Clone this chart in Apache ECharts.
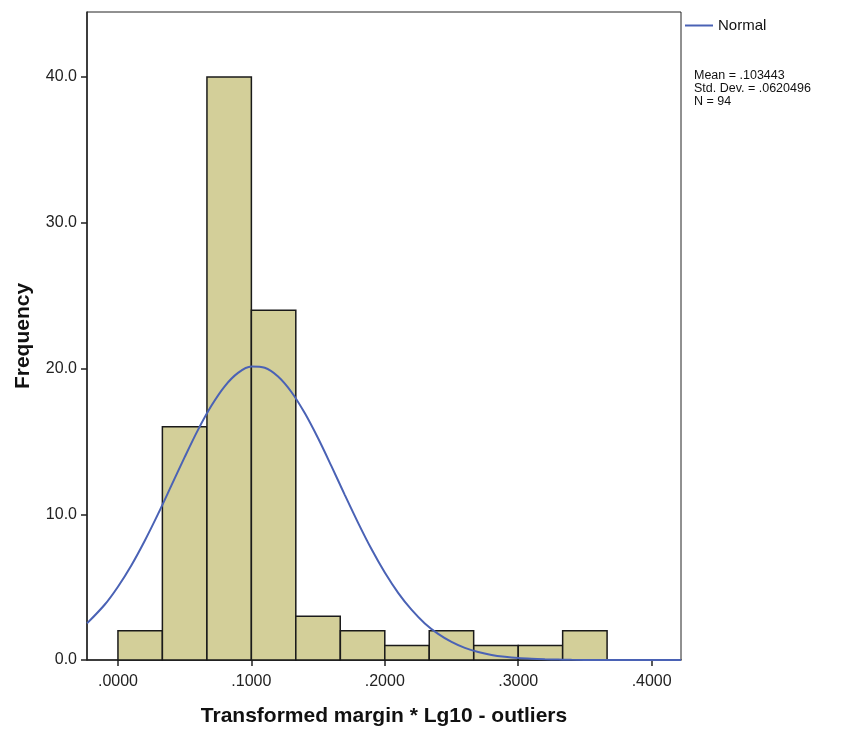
<!DOCTYPE html>
<html lang="en">
<head>
    <meta charset="UTF-8">
    <title>Histogram - Transformed margin</title>
    <script src="https://cdn.jsdelivr.net/npm/echarts@6.0.0/dist/echarts.min.js"></script>
    <style>
        * { margin: 0; padding: 0; box-sizing: border-box; }
        body { background: #fff; }
        #chart { width: 847px; height: 729px; }
    </style>
</head>
<body>
    <div id="chart"></div>

    <script>
        // histogram bins (width .0333, starting at 0)
        const binStarts = [0, 0.0333, 0.0667, 0.1, 0.1333, 0.1667, 0.2, 0.2333, 0.2667, 0.3, 0.3333];
        const binWidth = 0.0333;
        const counts = [2, 16, 40, 24, 3, 2, 1, 2, 1, 1, 2];

        // normal curve
        const curveX = [-0.0232, -0.01, 0, 0.01, 0.02, 0.03, 0.04, 0.05, 0.06, 0.07, 0.08, 0.09,
                        0.10, 0.11, 0.12, 0.13, 0.14, 0.15, 0.16, 0.17, 0.18, 0.19, 0.20, 0.21,
                        0.22, 0.23, 0.24, 0.25, 0.26, 0.27, 0.28, 0.29, 0.30, 0.31, 0.32, 0.33,
                        0.34, 0.36, 0.38, 0.40, 0.422];
        const curveY = [2.51, 3.79, 5.03, 6.49, 8.17, 10.01, 11.96, 13.92, 15.79, 17.44, 18.78, 19.70,
                        20.13, 20.05, 19.45, 18.39, 16.94, 15.21, 13.30, 11.33, 9.41, 7.61, 6.00, 4.61,
                        3.45, 2.51, 1.79, 1.24, 0.83, 0.55, 0.35, 0.22, 0.13, 0.08, 0.05, 0.03,
                        0.01, 0, 0, 0, 0];

        const xTicks = [0, 0.1, 0.2, 0.3, 0.4];
        const yTicks = [0, 10, 20, 30, 40];
        const statsLines = ['Mean = .103443', 'Std. Dev. = .0620496', 'N = 94'];

        const chart = echarts.init(document.getElementById('chart'));

        const option = {
            animation: false,
            textStyle: { fontFamily: 'Liberation Sans, Arial, sans-serif' },
            grid: {
                left: 87, right: 166, top: 12, bottom: 69,
                outerBoundsMode: 'none',
                show: true, borderColor: '#222', borderWidth: 1
            },
            legend: {
                left: 680, top: 13,
                itemWidth: 28, itemHeight: 2, itemGap: 5,
                icon: 'rect',
                textStyle: { fontSize: 15, color: '#111' },
                data: ['Normal']
            },
            xAxis: {
                type: 'value',
                min: -0.0232, max: 0.422,
                name: 'Transformed margin * Lg10 - outliers',
                nameLocation: 'middle',
                nameGap: 46,
                nameTextStyle: { fontSize: 21, fontWeight: 'bold', color: '#111' },
                axisLine: { onZero: false, lineStyle: { color: '#222', width: 1.5 } },
                axisTick: { show: true, length: 6, customValues: xTicks, lineStyle: { color: '#222', width: 1.5 } },
                axisLabel: {
                    customValues: xTicks, fontSize: 16, color: '#222', margin: 14,
                    formatter: v => v.toFixed(4).replace(/^0/, '')
                },
                splitLine: { show: false }
            },
            yAxis: {
                type: 'value',
                min: 0, max: 44.46,
                name: 'Frequency',
                nameLocation: 'middle',
                nameGap: 53,
                nameTextStyle: { fontSize: 21, fontWeight: 'bold', color: '#111' },
                axisLine: { show: true, onZero: false, lineStyle: { color: '#222', width: 1.5 } },
                axisTick: { show: true, length: 6, customValues: yTicks, lineStyle: { color: '#222', width: 1.5 } },
                axisLabel: {
                    customValues: yTicks, fontSize: 16, color: '#222', margin: 10,
                    formatter: v => v.toFixed(1)
                },
                splitLine: { show: false }
            },
            series: [
                {
                    name: 'Histogram',
                    type: 'custom',
                    data: binStarts.map((s, i) => [s, counts[i]]),
                    renderItem: function (params, api) {
                        const x0 = api.value(0);
                        const c = api.value(1);
                        const p0 = api.coord([x0, c]);
                        const p1 = api.coord([x0 + binWidth, 0]);
                        return {
                            type: 'rect',
                            shape: { x: p0[0], y: p0[1], width: p1[0] - p0[0], height: p1[1] - p0[1] },
                            style: { fill: '#d3cf99', stroke: '#1a1a1a', lineWidth: 1.5 }
                        };
                    },
                    z: 2
                },
                {
                    name: 'Normal',
                    type: 'line',
                    data: curveX.map((x, i) => [x, curveY[i]]),
                    smooth: 0.3,
                    showSymbol: false,
                    lineStyle: { color: '#4a62b5', width: 2 },
                    itemStyle: { color: '#4a62b5' },
                    z: 3
                }
            ],
            graphic: [{
                type: 'text',
                left: 694, top: 69,
                style: {
                    text: statsLines.join('\n'),
                    fontSize: 12.5, lineHeight: 13,
                    fill: '#111',
                    fontFamily: 'Liberation Sans, Arial, sans-serif'
                }
            }]
        };

        chart.setOption(option);
    </script>
</body>
</html>
